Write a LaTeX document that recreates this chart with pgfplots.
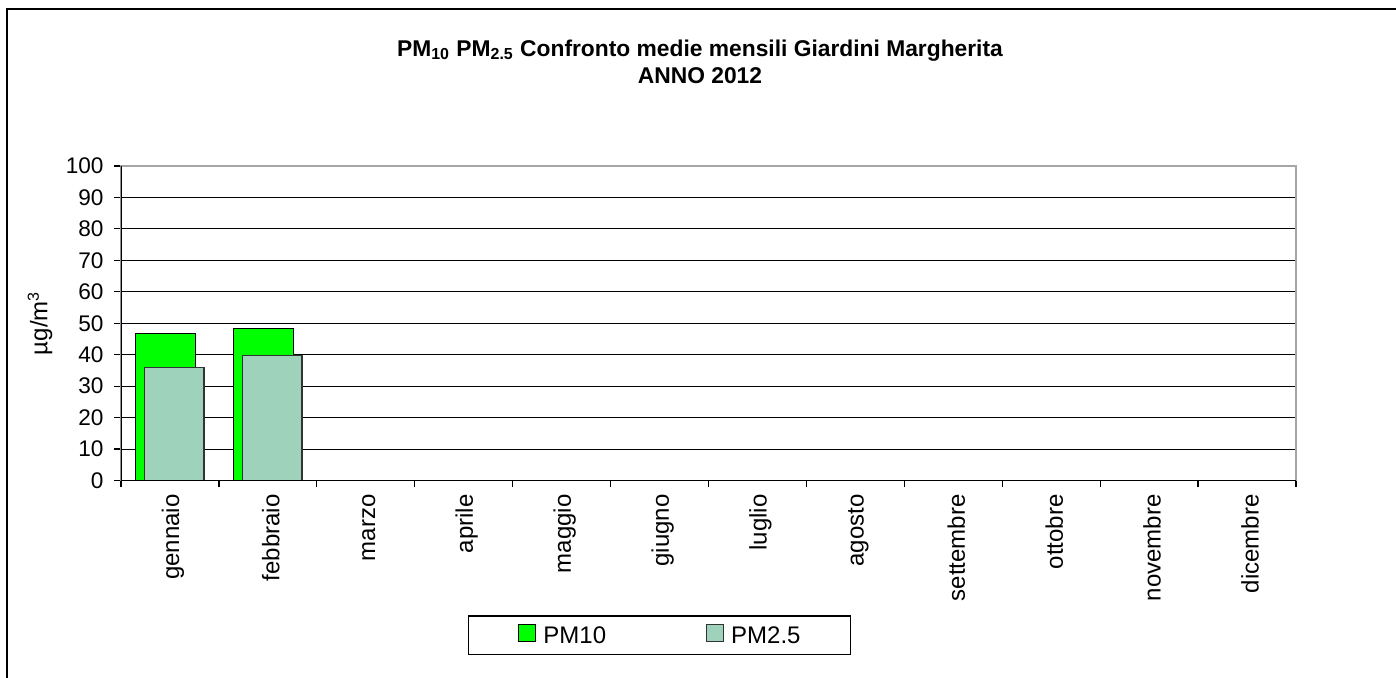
\documentclass[border=0pt]{standalone}
\usepackage{pgfplots}
\pgfplotsset{compat=1.18}
\usepackage{fontspec}
\setmainfont{Liberation Sans}
\definecolor{pmten}{RGB}{0,255,0}
\definecolor{pmtwo}{RGB}{158,210,186}
\begin{document}
\begin{tikzpicture}
\useasboundingbox (-60.5pt,-98.75pt) rectangle (637.5pt,240.25pt);
\draw[line width=1pt] (-56.75pt,-98.75pt) -- (-56.75pt,235.5pt) -- (637.5pt,235.5pt);
\node[align=center, font=\bfseries\fontsize{11.4}{13.5}\selectfont] at (289.5pt,209.5pt)
  {PM\textsubscript{10} PM\textsubscript{2.5} Confronto medie mensili Giardini Margherita\\ANNO 2012};
\begin{axis}[
  scale only axis, width=587.5pt, height=157.25pt,
  xmin=0, xmax=12, ymin=0, ymax=100,
  /pgf/number format/assume math mode=true,
  ytick={0,10,...,100},
  ymajorgrids, grid style={black, line width=0.5pt},
  xtick={0,...,12}, xticklabels={,,,,,,,,,,,,},
  extra x ticks={0.5,1.5,2.5,3.5,4.5,5.5,6.5,7.5,8.5,9.5,10.5,11.5},
  extra x tick labels={gennaio,febbraio,marzo,aprile,maggio,giugno,luglio,agosto,settembre,ottobre,novembre,dicembre},
  extra x tick style={major tick length=0pt, grid=none, xticklabel style={rotate=90, anchor=east, yshift=-1.5pt}, xticklabel shift=3.5pt},
  xticklabel style={font=\fontsize{12}{14}\selectfont},
  yticklabel style={font=\fontsize{11.3}{13}\selectfont},
  yticklabel shift=1.7pt,
  tick align=outside, xtick pos=bottom, ytick pos=left,
  major tick length=3.5pt,
  tick style={black, line width=0.6pt},
  axis line style={gray!70, line width=0.8pt},
  ylabel={µg/m\textsuperscript{3}},
  ylabel style={at={(axis description cs:-0.0689,0.5)}, anchor=center, font=\fontsize{12}{14}\selectfont},
  legend columns=2,
  legend style={at={(0.4583,-0.4928)}, anchor=center, draw=black, line width=0.6pt,
    font=\fontsize{12}{14}\selectfont, inner xsep=25pt, inner ysep=4pt,
    nodes={inner sep=0pt}, column sep=3.5pt,
    /tikz/every even column/.append style={column sep=50pt}},
  legend image code/.code={\draw[#1, line width=0.5pt] (0pt,-2.3pt) rectangle (8.5pt,6.2pt);},
]
\addplot[ybar, bar width=0.61, bar shift=-0.043, fill=pmten, draw=black, line width=0.6pt]
  coordinates {(0.5,46.8) (1.5,48.4)};
\addlegendentry{PM10}
\addplot[ybar, bar width=0.61, bar shift=0.043, fill=pmtwo, draw=black!80, line width=0.6pt]
  coordinates {(0.5,35.9) (1.5,39.7)};
\addlegendentry{PM2.5}
\draw[black, line width=0.8pt] (rel axis cs:0,1) -- (rel axis cs:0,0) -- (rel axis cs:1,0);
\end{axis}
\end{tikzpicture}
\end{document}
